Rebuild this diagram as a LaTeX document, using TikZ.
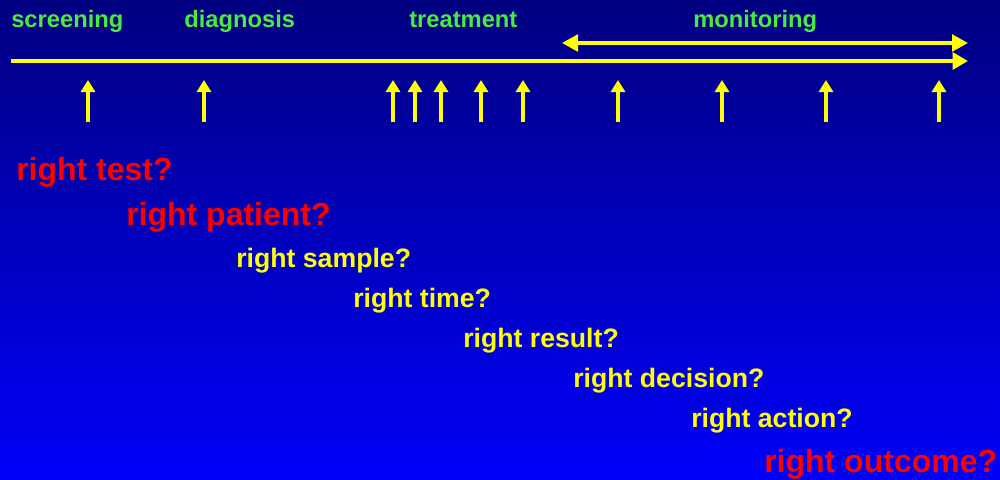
\documentclass[tikz,border=0pt]{standalone}
\usepackage{fontspec}
\setmainfont{Liberation Sans}[BoldFont=Liberation Sans Bold]
\newfontfamily\heavysans{Liberation Sans Bold}
\usetikzlibrary{arrows.meta}
\definecolor{bgtop}{RGB}{0,0,128}
\definecolor{bgbot}{RGB}{0,0,250}
\definecolor{phasegreen}{RGB}{72,235,64}
\definecolor{qyellow}{RGB}{255,255,0}
\definecolor{qred}{RGB}{255,0,0}
\tikzset{
  phase/.style={anchor=base west,inner sep=0pt,text=phasegreen,font=\heavysans\fontsize{17.8pt}{20pt}\selectfont},
  bigq/.style={anchor=base west,inner sep=0pt,text=qred,font=\heavysans\fontsize{24pt}{28pt}\selectfont},
  smallq/.style={anchor=base west,inner sep=0pt,text=qyellow,font=\heavysans\fontsize{20pt}{24pt}\selectfont},
  timeline/.style={draw=qyellow,line width=3.6pt,-{Triangle[length=11.5pt,width=12.5pt]}},
  span/.style={draw=qyellow,line width=2.5pt,{Triangle[length=12pt,width=12.5pt]}-{Triangle[length=12pt,width=12.5pt]}},
  event/.style={draw=qyellow,line width=3pt,-{Triangle[length=9pt,width=10.5pt]}}
}
\begin{document}
\begin{tikzpicture}[x=0.75pt,y=-0.75pt]
\shade[top color=bgtop,bottom color=bgbot] (0,0) rectangle (1000,479);
\useasboundingbox (0,0) rectangle (1000,479);
% phase labels
\node[phase] (scr) at (11,27) {screening};
\node[phase] (dia) at (184,27) {diagnosis};
\node[phase] (tre) at (409,27) {treatment};
\node[phase] (mon) at (693,27) {monitoring};
% timeline
\coordinate (tl0) at (11,61);
\coordinate (tl1) at (968,61);
\draw[timeline] (tl0) -- (tl1);
\coordinate (m0) at (562,43);
\coordinate (m1) at (968,43);
\draw[span] (m0) -- (m1);
% event arrows
\foreach \i/\x in {1/88,2/204,3/393,4/415,5/441,6/481,7/523,8/618,9/722,10/826,11/939}{
  \coordinate (eb\i) at (\x,122);
  \coordinate (et\i) at (\x,80);
  \draw[event] (eb\i) -- (et\i);
}
% questions
\node[bigq] (q1) at (16,180) {right test?};
\node[bigq] (q2) at (126,225) {right patient?};
\node[smallq] (q3) at (236,267) {right sample?};
\node[smallq] (q4) at (353,307) {right time?};
\node[smallq] (q5) at (463,347) {right result?};
\node[smallq] (q6) at (573,387) {right decision?};
\node[smallq] (q7) at (691,427) {right action?};
\node[bigq] (q8) at (764,472) {right outcome?};
\end{tikzpicture}
\end{document}
